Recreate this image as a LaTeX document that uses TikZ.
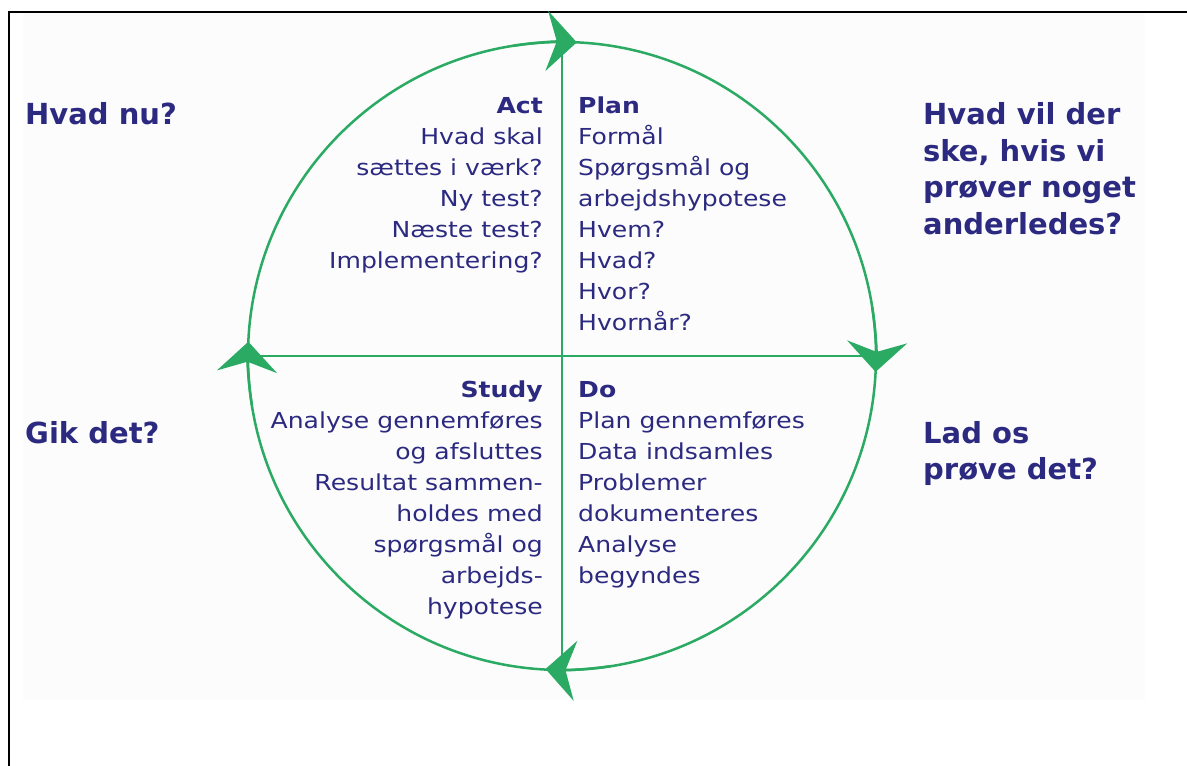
\documentclass[tikz,border=0pt]{standalone}
\usepackage{fontspec}
\setmainfont[FakeStretch=1.14]{DejaVu Sans}
\newfontfamily\askfont{DejaVu Sans}
\usetikzlibrary{arrows.meta}

\definecolor{cyclegreen}{HTML}{2BAA63}
\definecolor{cycleblue}{HTML}{2C2A80}

\begin{document}
\begin{tikzpicture}[
  x=1pt, y=1pt,
  ring/.style={draw=cyclegreen, line width=2.5pt},
  turn/.style={cyclegreen, line width=2.5pt,
    -{Stealth[length=30pt, width=60pt, inset=10pt]}},
  quad/.style={inner sep=0pt, text=cycleblue,
    font=\fontsize{22}{31}\selectfont},
  ask/.style={inner sep=0pt, text=cycleblue, align=left,
    font=\askfont\bfseries\fontsize{29}{36.5}\selectfont}
]
\useasboundingbox (0,0) rectangle (1187,766);

% sheet and frame
\fill[black!1] (23,66) rectangle (1145,754);
\draw[line width=1.5pt] (23,754) -- (1145,754);
\draw[line width=2.5pt] (8,754) -- (23,754);
\draw[line width=2.5pt] (1145,754) -- (1187,754);
\draw[line width=2.5pt] (9,755) -- (9,0);

% the wheel with its two axes
\node[circle, draw=cyclegreen, line width=2.5pt, minimum size=628pt,
  inner sep=0pt, outer sep=0pt] (wheel) at (562,410) {};
\draw[ring] (wheel.north) -- (wheel.south);
\draw[ring] (wheel.west) -- (wheel.east);

% clockwise arrowheads
\draw[turn] (wheel.99) arc[start angle=99, end angle=87.3, radius=314pt];
\draw[turn] (wheel.9) arc[start angle=9, end angle=-2.9, radius=314pt];
\draw[turn] (wheel.-81.5) arc[start angle=-81.5, end angle=-93.5, radius=314pt];
\draw[turn] (wheel.189) arc[start angle=189, end angle=177.4, radius=314pt];

% quadrants (base anchor sits on the last line)
\node[quad, anchor=base west, align=left] (plan) at (578,435)
  {\textbf{Plan}\\Formål\\Spørgsmål og\\arbejdshypotese\\Hvem?\\Hvad?\\Hvor?\\Hvornår?};
\node[quad, anchor=base east, align=right] (act) at (543,497)
  {\textbf{Act}\\Hvad skal\\sættes i værk?\\Ny test?\\Næste test?\\Implementering?};
\node[quad, anchor=base east, align=right] (study) at (543,151)
  {\textbf{Study}\\Analyse gennemføres\\og afsluttes\\Resultat sammen-\\holdes med\\spørgsmål og\\arbejds-\\hypotese};
\node[quad, anchor=base west, align=left] (doit) at (578,182)
  {\textbf{Do}\\Plan gennemføres\\Data indsamles\\Problemer\\dokumenteres\\Analyse\\begyndes};

% questions around the wheel
\node[ask, anchor=base west] (whatnow) at (25,641) {Hvad nu?};
\node[ask, anchor=base west] (whatif) at (923,531.5)
  {Hvad vil der\\ske, hvis vi\\prøver noget\\anderledes?};
\node[ask, anchor=base west] (didit) at (25,322) {Gik det?};
\node[ask, anchor=base west] (letstry) at (923,286) {Lad os\\prøve det?};
\end{tikzpicture}
\end{document}
